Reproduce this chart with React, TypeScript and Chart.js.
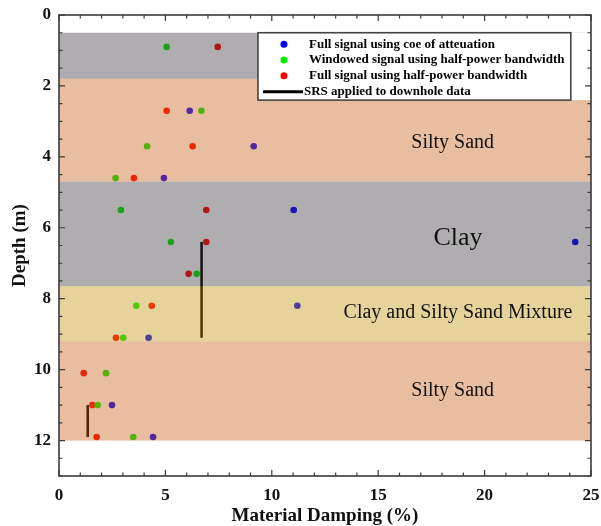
import { useEffect, useRef } from "react";
import { Chart, registerables } from "chart.js";

Chart.register(...registerables);

// ---- data ----
const windowedDepths = [0.9, 2.7, 3.7, 4.6, 5.5, 6.4, 7.3, 8.2, 9.1, 10.1, 11.0, 11.9];
const windowedDamping = [5.06, 6.69, 4.14, 2.66, 2.91, 5.26, 6.47, 3.63, 3.02, 2.21, 1.82, 3.49];
const halfPowerDepths = [0.9, 2.7, 3.7, 4.6, 5.5, 6.4, 7.3, 8.2, 9.1, 10.1, 11.0, 11.9];
const halfPowerDamping = [7.46, 5.06, 6.28, 3.52, 6.92, 6.92, 6.09, 4.36, 2.68, 1.16, 1.57, 1.77];
const coeDepths = [2.7, 3.7, 4.6, 5.5, 6.4, 8.2, 9.1, 11.0, 11.9];
const coeDamping = [6.14, 9.15, 4.93, 11.03, 24.26, 11.2, 4.21, 2.49, 4.42];
const srsDepths = [6.4, 9.1, null, 11.0, 11.9];
const srsDamping = [6.7, 6.7, null, 1.35, 1.35];

const seriesLabels = [
  "Full signal using coe of atteuation",
  "Windowed signal using half-power bandwidth",
  "Full signal using half-power bandwidth",
  "SRS applied to downhole data",
];

const xTicks = [0, 5, 10, 15, 20, 25];
const yTicks = [0, 2, 4, 6, 8, 10, 12];

const layerTops = [0.5, 1.8, 4.7, 7.65, 9.2];
const layerBottoms = [1.8, 4.7, 7.65, 9.2, 12.0];
const layerLabels = ["Silty Sand", "Clay", "Clay and Silty Sand Mixture", "Silty Sand"];
const layerLabelX = [18.5, 18.75, 18.75, 18.5];
const layerLabelDepth = [3.6, 6.3, 8.4, 10.6];

// legend region (data coords)
const legendX = [9.35, 24.05];
const legendDepth = [0.5, 2.4];

// ---- styles ----
const layerColors = [
  "rgba(62,57,62,0.41)",
  "rgba(201,94,23,0.41)",
  "rgba(62,57,62,0.41)",
  "rgba(192,148,11,0.41)",
  "rgba(201,94,23,0.41)",
];
const layerFontSizes = [20, 26, 20, 20];
const seriesColors = ["#0000ff", "#00ee00", "#ff0000", "#000000"];
const FONT = "'Liberation Serif', 'Times New Roman', serif";

const pts = (xs: (number | null)[], ys: (number | null)[]) =>
  xs.map((x, i) => ({ x: x as any, y: ys[i] as any }));

const zeroPad = (s: any) => {
  s.paddingTop = 0;
  s.paddingBottom = 0;
  s.paddingLeft = 0;
  s.paddingRight = 0;
};

const overlayPlugin = {
  id: "overlay",
  afterDatasetsDraw(chart: any) {
    const { ctx, chartArea, scales } = chart;
    const xs = scales.x;
    const ys = scales.y;
    ctx.save();
    ctx.beginPath();
    ctx.rect(chartArea.left, chartArea.top, chartArea.right - chartArea.left, chartArea.bottom - chartArea.top);
    ctx.clip();
    // soil layers
    layerTops.forEach((t, i) => {
      const y1 = ys.getPixelForValue(t);
      const y2 = ys.getPixelForValue(layerBottoms[i]);
      ctx.fillStyle = layerColors[i];
      ctx.fillRect(chartArea.left, y1, chartArea.right - chartArea.left, y2 - y1);
    });
    // layer names
    ctx.fillStyle = "#111";
    ctx.textAlign = "center";
    ctx.textBaseline = "middle";
    layerLabels.forEach((lab, i) => {
      ctx.font = `${layerFontSizes[i]}px ${FONT}`;
      ctx.fillText(lab, xs.getPixelForValue(layerLabelX[i]), ys.getPixelForValue(layerLabelDepth[i]));
    });
    // legend
    const lx1 = xs.getPixelForValue(legendX[0]);
    const lx2 = xs.getPixelForValue(legendX[1]);
    const ly1 = ys.getPixelForValue(legendDepth[0]);
    const ly2 = ys.getPixelForValue(legendDepth[1]);
    ctx.fillStyle = "#ffffff";
    ctx.fillRect(lx1, ly1, chartArea.right - lx1, ly2 - ly1);
    ctx.strokeStyle = "#444";
    ctx.lineWidth = 1.6;
    ctx.strokeRect(lx1, ly1, lx2 - lx1, ly2 - ly1);
    const rowH = (ly2 - ly1) / 4.25;
    ctx.font = `bold 13px ${FONT}`;
    ctx.textAlign = "left";
    seriesLabels.forEach((lab, i) => {
      const cy = ly1 + rowH * (i + 0.72);
      if (i < 3) {
        ctx.fillStyle = seriesColors[i];
        ctx.beginPath();
        ctx.arc(lx1 + 26, cy, 3.5, 0, Math.PI * 2);
        ctx.fill();
      } else {
        ctx.strokeStyle = "#000";
        ctx.lineWidth = 3;
        ctx.beginPath();
        ctx.moveTo(lx1 + 5, cy);
        ctx.lineTo(lx1 + 45, cy);
        ctx.stroke();
      }
      ctx.fillStyle = "#000";
      ctx.fillText(lab, lx1 + (i < 3 ? 51 : 46), cy);
    });
    ctx.restore();
  },
  afterDraw(chart: any) {
    const { ctx, chartArea, scales } = chart;
    const { left, right, top, bottom } = chartArea;
    const xs = scales.x;
    const ys = scales.y;
    ctx.save();
    ctx.strokeStyle = "#3a3a3a";
    ctx.lineWidth = 1.2;
    ctx.beginPath();
    for (let v = 0; v <= 25; v += 1) {
      const px = xs.getPixelForValue(v);
      const len = v % 5 === 0 ? 6 : 3.5;
      ctx.moveTo(px, bottom);
      ctx.lineTo(px, bottom - len);
      ctx.moveTo(px, top);
      ctx.lineTo(px, top + len);
    }
    for (let v = 0; v <= 13; v += 0.5) {
      const py = ys.getPixelForValue(v);
      const len = v % 2 === 0 ? 6 : 3.5;
      ctx.moveTo(left, py);
      ctx.lineTo(left + len, py);
      ctx.moveTo(right, py);
      ctx.lineTo(right - len, py);
    }
    ctx.stroke();
    ctx.lineWidth = 1.6;
    ctx.strokeRect(left, top, right - left, bottom - top);
    ctx.restore();
  },
};

export default function App() {
  const ref = useRef<HTMLCanvasElement>(null);
  useEffect(() => {
    if (!ref.current) return;
    Chart.defaults.font.family = FONT;
    const chart = new Chart(ref.current, {
      type: "scatter",
      data: {
        datasets: [
          {
            label: seriesLabels[0],
            data: pts(coeDamping, coeDepths),
            backgroundColor: seriesColors[0],
            borderWidth: 0,
            pointRadius: 3.3,
          },
          {
            label: seriesLabels[1],
            data: pts(windowedDamping, windowedDepths),
            backgroundColor: seriesColors[1],
            borderWidth: 0,
            pointRadius: 3.3,
          },
          {
            label: seriesLabels[2],
            data: pts(halfPowerDamping, halfPowerDepths),
            backgroundColor: seriesColors[2],
            borderWidth: 0,
            pointRadius: 3.3,
          },
          {
            label: seriesLabels[3],
            data: pts(srsDamping, srsDepths),
            showLine: true,
            spanGaps: false,
            borderColor: seriesColors[3],
            borderWidth: 2.6,
            pointRadius: 0,
          } as any,
        ],
      },
      options: {
        responsive: false,
        animation: false,
        layout: { padding: { left: 0, top: 15, right: 10, bottom: 0 } },
        plugins: { legend: { display: false }, tooltip: { enabled: false } },
        scales: {
          x: {
            type: "linear",
            min: 0,
            max: 25,
            afterBuildTicks: (s: any) => {
              s.ticks = xTicks.map((v) => ({ value: v }));
            },
            afterFit: (s: any) => {
              s.height = 50;
              zeroPad(s);
            },
            grid: { display: false, drawTicks: false },
            border: { display: false },
            ticks: { padding: 9, color: "#111", font: { size: 17, weight: "bold" } },
            title: {
              display: true,
              text: "Material Damping (%)",
              color: "#111",
              font: { size: 19, weight: "bold", lineHeight: 1 },
              padding: 0,
            },
          },
          y: {
            type: "linear",
            min: 0,
            max: 13,
            reverse: true,
            afterBuildTicks: (s: any) => {
              s.ticks = yTicks.map((v) => ({ value: v }));
            },
            afterFit: (s: any) => {
              s.width = 59;
              zeroPad(s);
            },
            grid: { display: false, drawTicks: false },
            border: { display: false },
            ticks: { padding: 8, color: "#111", font: { size: 17, weight: "bold" } },
            title: {
              display: true,
              text: "Depth (m)",
              color: "#111",
              font: { size: 19, weight: "bold", lineHeight: 1 },
              padding: { top: 11, bottom: 0 },
            },
          },
        },
      } as any,
      plugins: [overlayPlugin],
    });
    return () => chart.destroy();
  }, []);
  return (
    <div style={{ position: "absolute", left: 0, top: 0, width: 601, height: 526, background: "#fff" }}>
      <canvas ref={ref} width={601} height={526} style={{ display: "block" }} />
    </div>
  );
}
